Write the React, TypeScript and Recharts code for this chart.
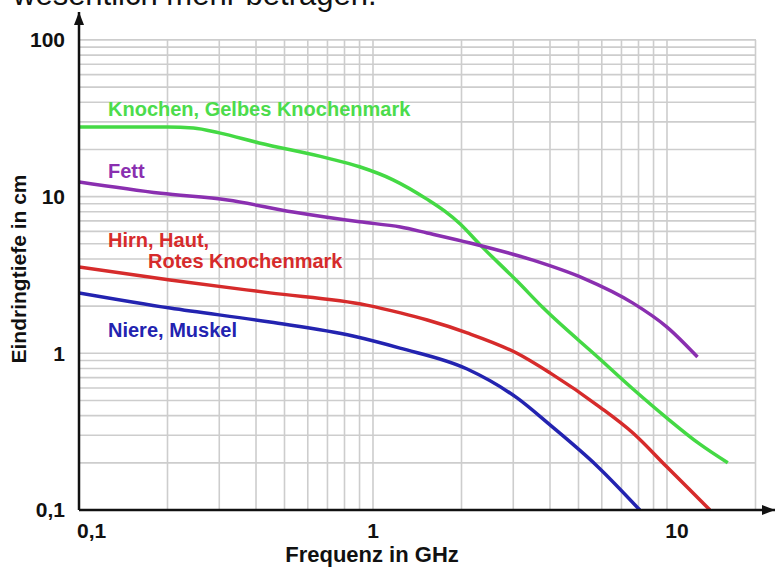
import { LineChart, Line, XAxis, YAxis, CartesianGrid, ReferenceDot } from 'recharts';

// Eindringtiefe (cm) über Frequenz (GHz)
const knochenFreq = [0.1, 0.2, 0.245, 0.3, 0.41, 0.7, 0.9, 1.17, 1.53, 1.75, 1.98, 2.31, 3.09, 3.79, 5.91, 7.66, 10, 12.9, 16.1];
const knochenDepth = [27.8, 27.8, 27.4, 25.5, 22.0, 17.6, 15.5, 12.8, 9.6, 8.1, 6.69, 4.94, 2.89, 1.95, 0.92, 0.592, 0.386, 0.264, 0.2];

const fettFreq = [0.1, 0.19, 0.32, 0.535, 0.9, 1.24, 1.53, 2.14, 3.5, 5.18, 7.66, 10, 12.7];
const fettDepth = [12.4, 10.5, 9.5, 7.97, 6.9, 6.4, 5.86, 5.06, 3.93, 3.02, 2.09, 1.47, 0.947];

const hirnFreq = [0.1, 0.204, 0.446, 0.95, 1.24, 1.53, 2.09, 3.09, 4.0, 5.91, 7.66, 10, 14.0];
const hirnDepth = [3.56, 2.94, 2.43, 2.03, 1.81, 1.63, 1.35, 1.0, 0.75, 0.454, 0.31, 0.188, 0.1];

const niereFreq = [0.1, 0.204, 0.446, 0.855, 1.235, 2.09, 3.09, 4.0, 5.78, 8.08];
const niereDepth = [2.43, 1.945, 1.584, 1.29, 1.08, 0.794, 0.519, 0.349, 0.191, 0.1];

const xTicks = [0.1, 1, 10];
const yTicks = [0.1, 1, 10, 100];

// Gitter
const xGrid = [0.2, 0.3, 0.4, 0.5, 0.6, 0.7, 0.8, 0.9, 1, 2, 3, 4, 5, 6, 7, 8, 9, 10, 20];
const yGrid = [
    0.2, 0.3, 0.4, 0.5, 0.6, 0.7, 0.8, 0.9, 1, 2, 3, 4, 5, 6, 7, 8, 9,
    10, 20, 30, 40, 50, 60, 70, 80, 90, 100,
];

const X_MIN = 0.1;
const X_MAX = 23.3;
const Y_MIN = 0.1;
const Y_MAX = 150.7;

const toSeries = (freq: number[], depth: number[]) => freq.map((f, i) => ({ f, d: depth[i] }));

const FONT = '"Liberation Sans", Arial, sans-serif';
const fmt = (v: number) => String(v).replace('.', ',');

const XTick = (props: any) => {
    const { x, y, payload } = props;
    const v = payload.value;
    const anchor = v === 0.1 ? 'start' : 'middle';
    const dx = v === 0.1 ? -2 : v === 10 ? 10 : 0;
    return (
        <text
            x={x + dx}
            y={y}
            dy="0.71em"
            textAnchor={anchor}
            fill="#111"
            style={{ fontFamily: FONT, fontWeight: 700, fontSize: 21 }}
        >
            {fmt(v)}
        </text>
    );
};

export default function App() {
    const series = [
        { name: 'Knochen, Gelbes Knochenmark', color: '#44d944', data: toSeries(knochenFreq, knochenDepth) },
        { name: 'Fett', color: '#8a2fb0', data: toSeries(fettFreq, fettDepth) },
        { name: 'Hirn, Haut, Rotes Knochenmark', color: '#d62b2b', data: toSeries(hirnFreq, hirnDepth) },
        { name: 'Niere, Muskel', color: '#2323b0', data: toSeries(niereFreq, niereDepth) },
    ];

    const labelStyle = { fontFamily: FONT, fontWeight: 700, fontSize: 20 };

    return (
        <div style={{ position: 'absolute', left: 0, top: 0, width: 777, height: 568, background: '#fff' }}>
            <LineChart width={777} height={568} margin={{ top: 12, right: 2, bottom: 0, left: 0 }}>
                <CartesianGrid
                    x={79}
                    y={40}
                    width={677}
                    height={470}
                    horizontalValues={yGrid}
                    verticalValues={xGrid}
                    stroke="#cdcdcd"
                    strokeWidth={1.6}
                />
                <XAxis
                    type="number"
                    dataKey="f"
                    scale="log"
                    domain={[X_MIN, X_MAX]}
                    allowDataOverflow
                    ticks={xTicks}
                    interval={0}
                    height={58}
                    tickSize={0}
                    tickMargin={13}
                    axisLine={{ stroke: '#111', strokeWidth: 2.5 }}
                    tick={<XTick />}
                    label={{
                        value: 'Frequenz in GHz',
                        position: 'insideBottom',
                        offset: 6,
                        dx: -55,
                        fill: '#111',
                        style: { fontFamily: FONT, fontWeight: 700, fontSize: 22 },
                    }}
                />
                <YAxis
                    type="number"
                    dataKey="d"
                    scale="log"
                    domain={[Y_MIN, Y_MAX]}
                    allowDataOverflow
                    ticks={yTicks}
                    interval={0}
                    tickFormatter={fmt}
                    width={79}
                    tickSize={0}
                    tickMargin={14}
                    axisLine={{ stroke: '#111', strokeWidth: 2.5 }}
                    tick={{ fill: '#111', fontFamily: FONT, fontWeight: 700, fontSize: 21 }}
                    label={{
                        value: 'Eindringtiefe in cm',
                        angle: -90,
                        position: 'insideLeft',
                        offset: 19,
                        dy: 8,
                        fill: '#111',
                        style: { fontFamily: FONT, fontWeight: 700, fontSize: 21, textAnchor: 'middle' },
                    }}
                />

                {series.map(s => (
                    <Line
                        key={s.name}
                        name={s.name}
                        data={s.data}
                        dataKey="d"
                        type="monotone"
                        stroke={s.color}
                        strokeWidth={3.5}
                        dot={false}
                        isAnimationActive={false}
                    />
                ))}

                {/* Pfeilspitzen der Achsen */}
                <ReferenceDot
                    x={X_MAX}
                    y={Y_MIN}
                    shape={(p: any) => (
                        <polygon points={`${p.cx},${p.cy} ${p.cx - 13},${p.cy - 5} ${p.cx - 13},${p.cy + 5}`} fill="#111" />
                    )}
                />
                <ReferenceDot
                    x={X_MIN}
                    y={Y_MAX}
                    shape={(p: any) => (
                        <polygon points={`${p.cx},${p.cy} ${p.cx - 5},${p.cy + 13} ${p.cx + 5},${p.cy + 13}`} fill="#111" />
                    )}
                />

                {/* Beschriftungen der Kurven */}
                <text x={108} y={116} fill="#4cdc4c" style={labelStyle}>Knochen, Gelbes Knochenmark</text>
                <text x={108} y={178} fill="#8a2fb0" style={labelStyle}>Fett</text>
                <text x={108} y={247} fill="#d62b2b" style={labelStyle}>Hirn, Haut,</text>
                <text x={148} y={268} fill="#d62b2b" style={labelStyle}>Rotes Knochenmark</text>
                <text x={108} y={337} fill="#2323b0" style={labelStyle}>Niere, Muskel</text>

                <text x={13} y={5} fill="#111" style={{ fontFamily: FONT, fontSize: 31 }}>wesentlich mehr betragen.</text>
            </LineChart>
        </div>
    );
}
